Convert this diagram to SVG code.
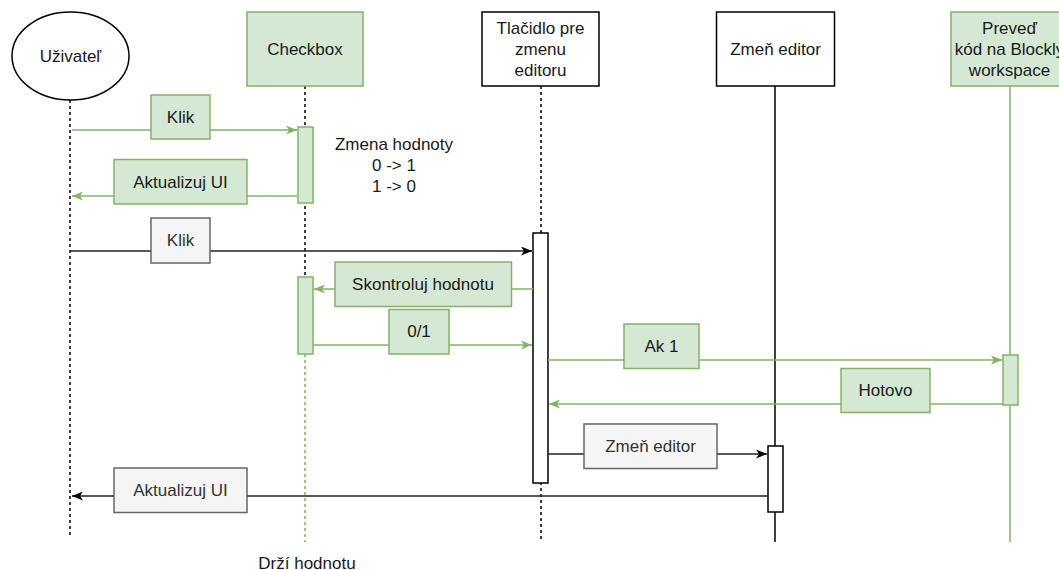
<svg xmlns="http://www.w3.org/2000/svg" width="1059" height="570" viewBox="0 0 1059 570">
  <defs>
    <style>
      text { font-family: "Liberation Sans", Arial, sans-serif; font-size: 17px; text-anchor: middle; fill: #1a1a1a; }
      .gtxt { fill: #333333; }
      .green { fill: #d5e8d4; stroke: #82b366; stroke-width: 1.5; }
      .plain { fill: #ffffff; stroke: #000000; stroke-width: 1.5; }
      .gray { fill: #f5f5f5; stroke: #666666; stroke-width: 1.5; }
      .life { fill: none; stroke: #000000; stroke-width: 1.5; }
      .dash { stroke-dasharray: 3 3; }
      .lifeg { fill: none; stroke: #82b366; stroke-width: 1.5; }
      .msg { fill: none; stroke: #222222; stroke-width: 1.5; }
      .msgg { fill: none; stroke: #82b366; stroke-width: 1.5; }
    </style>
    <marker id="arrowBlack" markerUnits="userSpaceOnUse" viewBox="0 0 11 9" refX="11" refY="4.5" markerWidth="11" markerHeight="9" orient="auto">
      <path d="M0,0 L11,4.5 L0,9 L3,4.5 Z" fill="#000000"/>
    </marker>
    <marker id="arrowGreen" markerUnits="userSpaceOnUse" viewBox="0 0 11 9" refX="11" refY="4.5" markerWidth="11" markerHeight="9" orient="auto">
      <path d="M0,0 L11,4.5 L0,9 L3,4.5 Z" fill="#82b366"/>
    </marker>
  </defs>

  <!-- lifelines -->
  <g id="lifelines">
    <line class="life dash" x1="70" y1="100" x2="70" y2="538"/>
    <line class="life dash" x1="305" y1="86" x2="305" y2="354"/>
    <line class="lifeg dash" x1="305" y1="354" x2="305" y2="542"/>
    <line class="life dash" x1="541" y1="86" x2="541" y2="542"/>
    <line class="life" x1="775" y1="86" x2="775" y2="542"/>
    <line class="lifeg" x1="1010" y1="86" x2="1010" y2="542"/>
  </g>

  <!-- participants -->
  <g id="uzivatel">
    <ellipse cx="70.5" cy="56" rx="58.5" ry="44" fill="#ffffff" stroke="#000000" stroke-width="1.5"/>
    <text x="70.5" y="62">Uživateľ</text>
  </g>
  <g id="checkbox">
    <rect class="green" x="247" y="12" width="116" height="74"/>
    <text x="305" y="55">Checkbox</text>
  </g>
  <g id="tlacidlo">
    <rect class="plain" x="482" y="12" width="117" height="74"/>
    <text x="540.5" y="34">Tlačidlo pre</text>
    <text x="540.5" y="55">zmenu</text>
    <text x="540.5" y="76">editoru</text>
  </g>
  <g id="zmen-editor">
    <rect class="plain" x="716.5" y="12" width="118" height="74"/>
    <text x="775.5" y="55">Zmeň editor</text>
  </g>
  <g id="preved">
    <rect class="green" x="951" y="12" width="117" height="74"/>
    <text x="1009.5" y="34">Preveď</text>
    <text x="1009.5" y="55">kód na Blockly</text>
    <text x="1009.5" y="76">workspace</text>
  </g>

  <!-- activation bars -->
  <g id="activations">
    <rect class="green" x="298" y="127" width="15" height="76"/>
    <rect class="green" x="298" y="277" width="15" height="77"/>
    <rect class="plain" x="533" y="233" width="15" height="250"/>
    <rect class="green" x="1003" y="355" width="15" height="50"/>
    <rect class="plain" x="768" y="446" width="15" height="66"/>
  </g>

  <!-- messages -->
  <g id="connectors">
    <line class="msgg" x1="72" y1="130" x2="297" y2="130" marker-end="url(#arrowGreen)"/>
    <line class="msgg" x1="297" y1="196" x2="72" y2="196" marker-end="url(#arrowGreen)"/>
    <line class="msg" x1="70" y1="251" x2="532" y2="251" marker-end="url(#arrowBlack)"/>
    <line class="msgg" x1="533" y1="289" x2="314" y2="289" marker-end="url(#arrowGreen)"/>
    <line class="msgg" x1="313" y1="345" x2="532" y2="345" marker-end="url(#arrowGreen)"/>
    <line class="msgg" x1="548" y1="360" x2="1002" y2="360" marker-end="url(#arrowGreen)"/>
    <line class="msgg" x1="1003" y1="404" x2="549" y2="404" marker-end="url(#arrowGreen)"/>
    <line class="msg" x1="548" y1="454" x2="767" y2="454" marker-end="url(#arrowBlack)"/>
    <line class="msg" x1="768" y1="496" x2="72" y2="496" marker-end="url(#arrowBlack)"/>
  </g>

  <!-- message labels -->
  <g id="label-klik-1">
    <rect class="green" x="151" y="95" width="59" height="44"/>
    <text x="180.5" y="123">Klik</text>
  </g>
  <g id="label-aktualizuj-1">
    <rect class="green" x="114" y="159.5" width="133" height="44.5"/>
    <text x="180.5" y="188">Aktualizuj UI</text>
  </g>
  <g id="label-klik-2">
    <rect class="gray" x="151" y="218" width="59" height="45"/>
    <text class="gtxt" x="180.5" y="246">Klik</text>
  </g>
  <g id="label-skontroluj">
    <rect class="green" x="335" y="262" width="176.5" height="44.5"/>
    <text x="423" y="290">Skontroluj hodnotu</text>
  </g>
  <g id="label-01">
    <rect class="green" x="389" y="309.5" width="60" height="44.5"/>
    <text x="419" y="337">0/1</text>
  </g>
  <g id="label-ak1">
    <rect class="green" x="624" y="324" width="75" height="44.5"/>
    <text x="661.5" y="352">Ak 1</text>
  </g>
  <g id="label-hotovo">
    <rect class="green" x="841" y="368.5" width="89" height="44"/>
    <text x="885.5" y="396">Hotovo</text>
  </g>
  <g id="label-zmen-editor">
    <rect class="gray" x="584" y="424" width="133" height="44.5"/>
    <text class="gtxt" x="650.5" y="452">Zmeň editor</text>
  </g>
  <g id="label-aktualizuj-2">
    <rect class="gray" x="114" y="468" width="133" height="44.5"/>
    <text class="gtxt" x="180.5" y="496">Aktualizuj UI</text>
  </g>

  <!-- notes -->
  <g id="note-zmena">
    <text x="394" y="150">Zmena hodnoty</text>
    <text x="394" y="171">0 -&gt; 1</text>
    <text x="394" y="192">1 -&gt; 0</text>
  </g>
  <g id="note-drzi">
    <text x="307" y="569">Drží hodnotu</text>
  </g>
</svg>
